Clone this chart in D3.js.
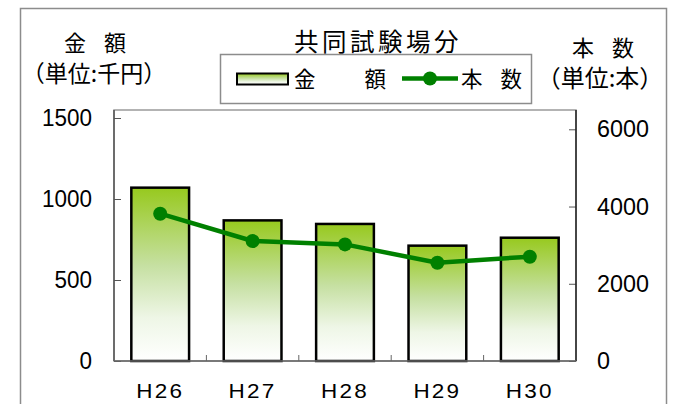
<!DOCTYPE html>
<html>
<head>
<meta charset="utf-8">
<script src="https://cdn.jsdelivr.net/npm/d3@7"></script>
<style>
  html, body { margin: 0; padding: 0; background: #fff; }
  svg { display: block; }
  .jp { font-family: "Noto Sans CJK JP", "Noto Sans", sans-serif; fill: #000; }
  .num { font-family: "Liberation Sans", Arial, sans-serif; fill: #000; }
</style>
</head>
<body>
<svg id="chart" width="691" height="404"></svg>
<script>
// Fiscal years (Heisei)
const categories = ["H26", "H27", "H28", "H29", "H30"];
// 金額 (千円) — bars, left axis
const amountValues = [1070, 868, 846, 712, 761];
// 本数 (本) — line, right axis
const countValues = [3814, 3107, 3020, 2545, 2701];
// Axis ticks
const leftTicks = [0, 500, 1000, 1500];
const rightTicks = [0, 2000, 4000, 6000];

const svg = d3.select("#chart");

// Layout
const plot = { left: 114, right: 576, top: 110, bottom: 361 };

// Outer frame
svg.append("rect")
  .attr("x", 20.5).attr("y", 8.5)
  .attr("width", 646).attr("height", 420)
  .attr("fill", "#fff").attr("stroke", "#8c8c8c").attr("stroke-width", 1.5);

// Scales
const x = d3.scaleBand().domain(categories)
  .range([plot.left, plot.right])
  .paddingInner(0.375).paddingOuter(0.1875);
const yL = d3.scaleLinear().domain([0, 1500]).range([plot.bottom, 118]);
const yR = d3.scaleLinear().domain([0, 6000]).range([plot.bottom, 129.3]);

// Bar gradient
const defs = svg.append("defs");
const grad = defs.append("linearGradient").attr("id", "barGrad")
  .attr("x1", 0).attr("y1", 0).attr("x2", 0).attr("y2", 1);
grad.append("stop").attr("offset", "0%").attr("stop-color", "#97c91e");
grad.append("stop").attr("offset", "45%").attr("stop-color", "#c6e0a2");
grad.append("stop").attr("offset", "75%").attr("stop-color", "#eef6e6");
grad.append("stop").attr("offset", "100%").attr("stop-color", "#ffffff");

// Plot area border
svg.append("rect")
  .attr("x", plot.left).attr("y", plot.top)
  .attr("width", plot.right - plot.left).attr("height", plot.bottom - plot.top)
  .attr("fill", "#fff").attr("stroke", "#9a9a9a").attr("stroke-width", 1.5);

// Left axis (ticks inside)
const axL = svg.append("g").attr("transform", `translate(${plot.left},0)`)
  .call(d3.axisRight(yL).tickValues(leftTicks).tickSize(7).tickFormat(""));
axL.select(".domain").remove();
axL.selectAll("line").attr("stroke", "#555").attr("stroke-width", 1);
svg.append("line").attr("x1", plot.left).attr("x2", plot.left)
  .attr("y1", plot.top).attr("y2", plot.bottom)
  .attr("stroke", "#555").attr("stroke-width", 1.5);

// Right axis (ticks inside)
const axR = svg.append("g").attr("transform", `translate(${plot.right},0)`)
  .call(d3.axisLeft(yR).tickValues(rightTicks).tickSize(7).tickFormat(""));
axR.select(".domain").remove();
axR.selectAll("line").attr("stroke", "#555").attr("stroke-width", 1);
svg.append("line").attr("x1", plot.right).attr("x2", plot.right)
  .attr("y1", plot.top).attr("y2", plot.bottom)
  .attr("stroke", "#222").attr("stroke-width", 1.5);

// Category separator ticks along the baseline
const step = x.step();
const sepX = categories.slice(1).map((c, i) => x(c) - step * x.paddingInner() / 2);
svg.selectAll("line.sep").data(sepX).join("line")
  .attr("class", "sep")
  .attr("x1", d => d).attr("x2", d => d)
  .attr("y1", plot.bottom).attr("y2", plot.bottom - 6)
  .attr("stroke", "#666").attr("stroke-width", 1);

// Bars
svg.selectAll("rect.bar").data(amountValues).join("rect")
  .attr("class", "bar")
  .attr("x", (d, i) => x(categories[i]))
  .attr("y", d => yL(d))
  .attr("width", x.bandwidth())
  .attr("height", d => yL(0) - yL(d))
  .attr("fill", "url(#barGrad)")
  .attr("stroke", "#000").attr("stroke-width", 2.5);

// Baseline
svg.append("line").attr("x1", plot.left).attr("x2", plot.right)
  .attr("y1", plot.bottom).attr("y2", plot.bottom)
  .attr("stroke", "#666").attr("stroke-width", 1.5);

// Line series
const cx = (d, i) => x(categories[i]) + x.bandwidth() / 2;
const line = d3.line().x(cx).y(d => yR(d));
svg.append("path").datum(countValues)
  .attr("d", line).attr("fill", "none")
  .attr("stroke", "#008000").attr("stroke-width", 4.5)
  .attr("stroke-linejoin", "round");
svg.selectAll("circle.pt").data(countValues).join("circle")
  .attr("class", "pt")
  .attr("cx", cx).attr("cy", d => yR(d)).attr("r", 7)
  .attr("fill", "#008000");

// Tick labels
svg.selectAll("text.tl").data(leftTicks).join("text")
  .attr("class", "tl num")
  .attr("x", 92).attr("y", d => yL(d) + 8)
  .attr("text-anchor", "end")
  .attr("font-size", 23.5).attr("textLength", d => String(d).length * 12.5)
  .attr("lengthAdjust", "spacingAndGlyphs")
  .text(d => d);
svg.selectAll("text.tr").data(rightTicks).join("text")
  .attr("class", "tr num")
  .attr("x", 597).attr("y", d => yR(d) + 8)
  .attr("text-anchor", "start")
  .attr("font-size", 23.5).attr("textLength", d => String(d).length * 13)
  .attr("lengthAdjust", "spacingAndGlyphs")
  .text(d => d);
svg.selectAll("text.tx").data(categories).join("text")
  .attr("class", "tx num")
  .attr("x", d => x(d) + x.bandwidth() / 2 - 24).attr("y", 398)
  .attr("font-size", 20).attr("letter-spacing", 2)
  .attr("textLength", 48).attr("lengthAdjust", "spacingAndGlyphs")
  .text(d => d);

// Titles
svg.append("text").attr("class", "jp")
  .attr("x", 378).attr("y", 51).attr("text-anchor", "middle")
  .attr("font-size", 24.5).attr("letter-spacing", 3.5)
  .text("共同試験場分");
svg.append("text").attr("class", "jp")
  .attr("x", 94).attr("y", 51).attr("text-anchor", "middle")
  .attr("font-size", 22).attr("letter-spacing", -2).text("金　額");
svg.append("text").attr("class", "jp")
  .attr("x", 94).attr("y", 82).attr("text-anchor", "middle")
  .attr("font-size", 23).text("（単位:千円）");
svg.append("text").attr("class", "jp")
  .attr("x", 602).attr("y", 56).attr("text-anchor", "middle")
  .attr("font-size", 22).attr("letter-spacing", -2).text("本　数");
svg.append("text").attr("class", "jp")
  .attr("x", 600).attr("y", 87).attr("text-anchor", "middle")
  .attr("font-size", 24).text("（単位:本）");

// Legend
const lg = svg.append("g");
lg.append("rect").attr("x", 220.5).attr("y", 54.5).attr("width", 311).attr("height", 49)
  .attr("fill", "#fff").attr("stroke", "#8c8c8c").attr("stroke-width", 1.5);
lg.append("rect").attr("x", 237).attr("y", 73.5).attr("width", 51).attr("height", 11)
  .attr("fill", "url(#barGrad)").attr("stroke", "#000").attr("stroke-width", 2);
lg.append("text").attr("class", "jp").attr("x", 294).attr("y", 87)
  .attr("font-size", 21.5).text("金");
lg.append("text").attr("class", "jp").attr("x", 364.5).attr("y", 87)
  .attr("font-size", 21.5).text("額");
lg.append("line").attr("x1", 402).attr("x2", 458).attr("y1", 78.5).attr("y2", 78.5)
  .attr("stroke", "#008000").attr("stroke-width", 4.5);
lg.append("circle").attr("cx", 430).attr("cy", 78.5).attr("r", 7).attr("fill", "#008000");
lg.append("text").attr("class", "jp").attr("x", 461).attr("y", 87)
  .attr("font-size", 21.5).text("本");
lg.append("text").attr("class", "jp").attr("x", 500.5).attr("y", 87)
  .attr("font-size", 21.5).text("数");
</script>
</body>
</html>
